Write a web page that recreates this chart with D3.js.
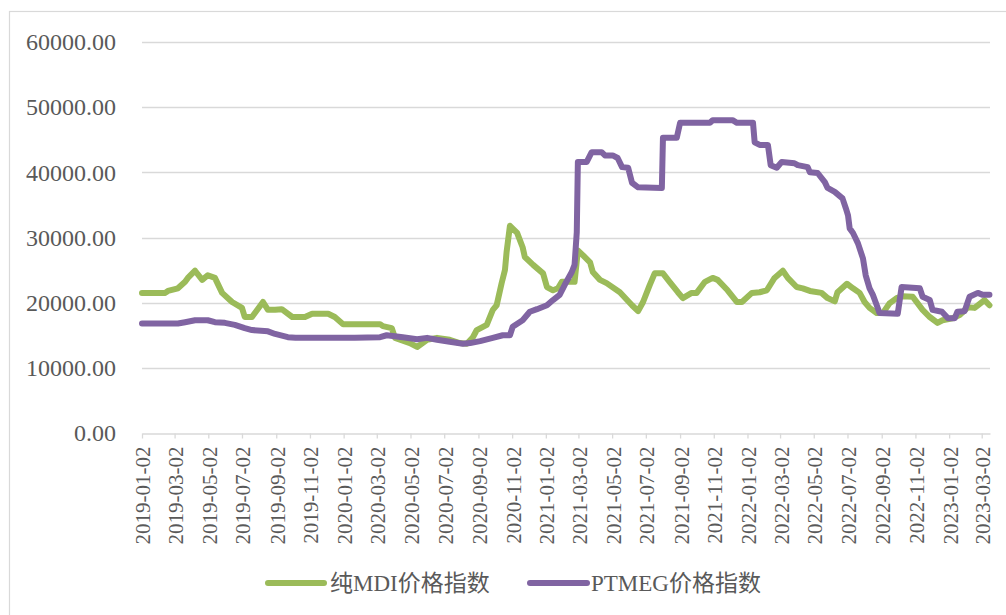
<!DOCTYPE html>
<html>
<head>
<meta charset="utf-8">
<script src="https://cdn.jsdelivr.net/npm/d3@7"></script>
<style>
  body { margin: 0; background: #fff; }
  svg { display: block; }
</style>
</head>
<body>
<script>
// 纯MDI价格指数
const mdiDates = ["2019-01-02","2019-02-13","2019-02-18","2019-03-08","2019-03-21","2019-03-26","2019-04-08","2019-04-21","2019-05-01","2019-05-14","2019-05-27","2019-06-14","2019-07-02","2019-07-07","2019-07-20","2019-08-09","2019-08-18","2019-08-31","2019-09-12","2019-10-01","2019-10-24","2019-11-06","2019-12-05","2019-12-17","2020-01-01","2020-03-08","2020-03-13","2020-03-29","2020-04-04","2020-05-01","2020-05-14","2020-06-01","2020-06-19","2020-07-12","2020-07-30","2020-08-12","2020-08-23","2020-08-30","2020-09-17","2020-09-28","2020-10-05","2020-10-14","2020-10-20","2020-10-23","2020-10-29","2020-11-11","2020-11-21","2020-11-25","2020-12-10","2020-12-28","2021-01-04","2021-01-15","2021-01-24","2021-01-31","2021-02-23","2021-03-01","2021-03-10","2021-03-23","2021-03-28","2021-04-10","2021-04-22","2021-05-16","2021-06-07","2021-06-18","2021-06-27","2021-07-09","2021-07-18","2021-08-02","2021-08-14","2021-08-29","2021-09-07","2021-09-23","2021-10-02","2021-10-17","2021-10-31","2021-11-09","2021-11-27","2021-12-14","2021-12-23","2022-01-10","2022-01-24","2022-02-06","2022-02-20","2022-03-07","2022-03-16","2022-04-01","2022-04-12","2022-04-25","2022-05-16","2022-05-27","2022-06-09","2022-06-14","2022-07-01","2022-07-12","2022-07-24","2022-08-02","2022-08-11","2022-08-24","2022-09-04","2022-09-16","2022-09-29","2022-10-10","2022-10-28","2022-11-15","2022-11-28","2022-12-12","2022-12-21","2023-01-08","2023-01-21","2023-02-05","2023-02-17","2023-02-23","2023-03-07","2023-03-16"];
const mdiValues = [21500,21500,21800,22200,23200,23800,24900,23500,24200,23800,21500,20100,19200,17800,17800,20100,18900,18900,19000,17800,17800,18300,18300,17800,16700,16700,16400,16100,14600,13800,13200,14300,14600,14300,13800,13700,14700,15800,16600,18900,19600,23000,25000,27800,31800,30700,28500,27000,25800,24500,22400,21900,22200,23200,23200,28000,27300,26200,24700,23500,23000,21600,19600,18700,20100,22700,24500,24500,23200,21600,20700,21500,21500,23200,23800,23500,21900,20100,20100,21500,21600,21900,23800,24900,23800,22400,22200,21800,21500,20700,20200,21600,22900,22200,21500,20100,19200,18400,18400,19900,20700,21000,20900,18900,17800,16900,17300,17600,18100,19300,19200,19600,20400,19600];

// PTMEG价格指数
const ptmegDates = ["2019-01-02","2019-03-08","2019-03-21","2019-04-08","2019-05-01","2019-05-14","2019-06-01","2019-06-19","2019-07-07","2019-07-20","2019-08-18","2019-08-31","2019-09-23","2019-10-07","2020-01-22","2020-03-08","2020-03-20","2020-04-18","2020-05-14","2020-06-01","2020-06-19","2020-07-12","2020-08-05","2020-08-18","2020-09-05","2020-09-28","2020-10-16","2020-10-29","2020-11-03","2020-11-21","2020-12-04","2020-12-17","2021-01-04","2021-01-15","2021-01-27","2021-02-05","2021-02-18","2021-02-23","2021-02-27","2021-03-01","2021-03-17","2021-03-26","2021-04-13","2021-04-19","2021-05-03","2021-05-12","2021-05-20","2021-05-31","2021-06-07","2021-06-18","2021-07-31","2021-08-02","2021-08-27","2021-09-02","2021-10-26","2021-10-31","2021-12-06","2021-12-14","2022-01-12","2022-01-15","2022-01-24","2022-02-08","2022-02-13","2022-02-24","2022-03-05","2022-03-28","2022-04-03","2022-04-21","2022-04-25","2022-05-09","2022-05-22","2022-05-27","2022-06-09","2022-06-23","2022-06-29","2022-07-03","2022-07-06","2022-07-12","2022-07-21","2022-07-30","2022-08-04","2022-08-11","2022-08-17","2022-08-24","2022-08-29","2022-10-01","2022-10-08","2022-11-10","2022-11-15","2022-11-28","2022-12-03","2022-12-20","2022-12-31","2023-01-12","2023-01-17","2023-01-30","2023-02-08","2023-02-23","2023-03-04","2023-03-16"];
const ptmegValues = [16800,16800,17000,17300,17300,17000,16900,16600,16100,15800,15600,15200,14700,14600,14600,14700,15000,14700,14400,14600,14300,14000,13700,13800,14100,14600,15000,15000,16300,17300,18600,19000,19600,20400,21200,22700,24700,25800,30800,41600,41600,43100,43100,42600,42600,42200,40800,40700,38400,37700,37600,45300,45300,47600,47600,48000,48000,47600,47600,44600,44200,44200,41100,40700,41600,41400,41100,40800,40000,39900,38500,37600,37000,36000,34500,33400,31400,30700,29100,26800,24200,22200,21200,19600,18400,18300,22400,22200,20900,20400,18900,18600,17600,17600,18600,18700,20900,21500,21200,21200];

const xTickLabels = ["2019-01-02","2019-03-02","2019-05-02","2019-07-02","2019-09-02","2019-11-02","2020-01-02","2020-03-02","2020-05-02","2020-07-02","2020-09-02","2020-11-02","2021-01-02","2021-03-02","2021-05-02","2021-07-02","2021-09-02","2021-11-02","2022-01-02","2022-03-02","2022-05-02","2022-07-02","2022-09-02","2022-11-02","2023-01-02","2023-03-02"];
const yTicks = [0, 10000, 20000, 30000, 40000, 50000, 60000];
const seriesNames = ["纯MDI价格指数", "PTMEG价格指数"];
const seriesColors = ["#9BBB59", "#8064A2"];

const width = 1006, height = 615;
const parse = d3.timeParse("%Y-%m-%d");
const fmt = d3.timeFormat("%Y-%m-%d");
const textColor = "#595959";
const gridColor = "#D9D9D9";
const serif = "'Liberation Serif', 'Times New Roman', serif";
const cjk = "'Liberation Serif', 'Noto Sans CJK SC', serif";

const series = [
  mdiDates.map((d, i) => ({date: parse(d), value: mdiValues[i]})),
  ptmegDates.map((d, i) => ({date: parse(d), value: ptmegValues[i]}))
];

const x = d3.scaleTime()
  .domain([parse("2019-01-02"), parse("2023-03-17")])
  .range([142, 990]);
const y = d3.scaleLinear()
  .domain([0, 60000])
  .range([433, 42]);

const svg = d3.create("svg")
  .attr("width", width)
  .attr("height", height);

// chart border
svg.append("rect")
  .attr("x", 9.5).attr("y", 11.5)
  .attr("width", width).attr("height", height)
  .attr("fill", "white")
  .attr("stroke", gridColor)
  .attr("stroke-width", 1.2);

// gridlines
svg.append("g")
  .selectAll("line")
  .data(yTicks.filter(d => d > 0))
  .join("line")
  .attr("x1", x.range()[0])
  .attr("x2", x.range()[1])
  .attr("y1", d => Math.round(y(d)) + 0.5)
  .attr("y2", d => Math.round(y(d)) + 0.5)
  .attr("stroke", gridColor)
  .attr("stroke-width", 1.3);

// y axis labels
const yAxis = svg.append("g")
  .attr("transform", `translate(${x.range()[0]},0)`)
  .call(d3.axisLeft(y).tickValues(yTicks).tickFormat(d3.format(".2f")).tickSize(0).tickPadding(26));
yAxis.select(".domain").remove();
yAxis.selectAll("text")
  .attr("fill", textColor)
  .attr("font-family", serif)
  .attr("font-size", 24);

// x axis
const xAxis = svg.append("g")
  .attr("transform", `translate(0,${Math.round(y(0)) + 0.5})`)
  .call(d3.axisBottom(x)
    .tickValues(xTickLabels.map(parse))
    .tickFormat(fmt)
    .tickSize(5)
    .tickSizeOuter(0));
xAxis.select(".domain").attr("stroke", gridColor).attr("stroke-width", 1.3);
xAxis.selectAll(".tick line").attr("stroke", gridColor).attr("stroke-width", 1.3);
xAxis.selectAll(".tick text")
  .attr("fill", textColor)
  .attr("font-family", serif)
  .attr("font-size", 21)
  .attr("text-anchor", "end")
  .attr("transform", "rotate(-90)")
  .attr("x", -13)
  .attr("y", 0)
  .attr("dy", "0.38em");

// lines
const line = d3.line()
  .x(d => x(d.date))
  .y(d => y(d.value));

svg.append("g")
  .selectAll("path")
  .data(series)
  .join("path")
  .attr("d", line)
  .attr("fill", "none")
  .attr("stroke", (d, i) => seriesColors[i])
  .attr("stroke-width", 6)
  .attr("stroke-linejoin", "round")
  .attr("stroke-linecap", "round");

// legend
const legendItems = [
  {x1: 268, x2: 324, tx: 330},
  {x1: 530, x2: 587, tx: 591}
];
const legend = svg.append("g");
legendItems.forEach((item, i) => {
  legend.append("line")
    .attr("x1", item.x1).attr("x2", item.x2)
    .attr("y1", 583).attr("y2", 583)
    .attr("stroke", seriesColors[i])
    .attr("stroke-width", 6)
    .attr("stroke-linecap", "round");
  legend.append("text")
    .attr("x", item.tx)
    .attr("y", 591)
    .attr("fill", textColor)
    .attr("font-family", cjk)
    .attr("font-size", 23)
    .text(seriesNames[i]);
});

document.body.appendChild(svg.node());
</script>
</body>
</html>
